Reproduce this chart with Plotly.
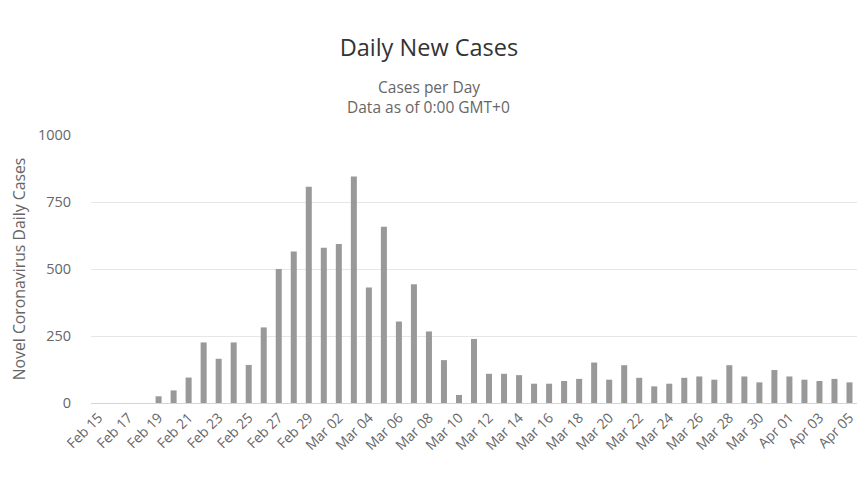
import plotly.graph_objects as go

# Daily new cases, Feb 15 - Apr 05
dates = (
    [f"Feb {d:02d}" for d in range(15, 30)]
    + [f"Mar {d:02d}" for d in range(1, 32)]
    + [f"Apr {d:02d}" for d in range(1, 6)]
)
cases = [
    0, 0, 0, 0, 25, 47, 95, 226, 165, 226, 142, 282, 500, 565, 807,
    579, 593, 845, 431, 658, 304, 443, 267, 160, 30, 239, 109, 109, 104, 72,
    72, 82, 90, 151, 87, 141, 94, 62, 72, 94, 99, 87, 141, 99, 77,
    123, 99, 87, 82, 90, 77,
]
tick_labels = dates[::2]

fig = go.Figure()
fig.add_trace(go.Bar(x=dates, y=cases, marker_color="#999999",
                     marker_line_width=0, name="Daily Cases"))

grey = "#666666"
# page body has an 8px margin, so the figure is 8px smaller each way
fig.update_layout(
    width=859, height=471,
    margin=dict(l=83, r=10, t=127, b=76, autoexpand=False),
    paper_bgcolor="white", plot_bgcolor="white",
    font=dict(family="Open Sans", color=grey, size=14),
    bargap=0.6,
    showlegend=False,
    title=dict(text="Daily New Cases", x=0.490, xref="container",
               xanchor="center", y=0.915, yref="container", yanchor="middle",
               font=dict(size=23.5, color="#333333")),
)
for txt, yy in [("Cases per Day", 1.178), ("Data as of 0:00 GMT+0", 1.106)]:
    fig.add_annotation(text=txt, xref="paper", yref="paper", x=0.441, y=yy,
                       showarrow=False, font=dict(size=15.5, color=grey),
                       yanchor="middle")
fig.update_xaxes(type="category", tickmode="array", tickvals=tick_labels,
                 ticktext=tick_labels, tickangle=-45, showgrid=False,
                 showline=True, linecolor="#ccd6eb", linewidth=1,
                 automargin=False, tickfont=dict(size=14, color=grey))
fig.update_yaxes(range=[0, 1000], tickvals=[0, 250, 500, 750, 1000],
                 gridcolor="#e6e6e6", zeroline=False, automargin=False,
                 ticks="outside", ticklen=16, tickcolor="rgba(0,0,0,0)",
                 title=dict(text="Novel Coronavirus Daily Cases",
                            font=dict(size=15.8, color=grey), standoff=9),
                 tickfont=dict(size=14.5, color=grey))

fig.write_html("out.html")
